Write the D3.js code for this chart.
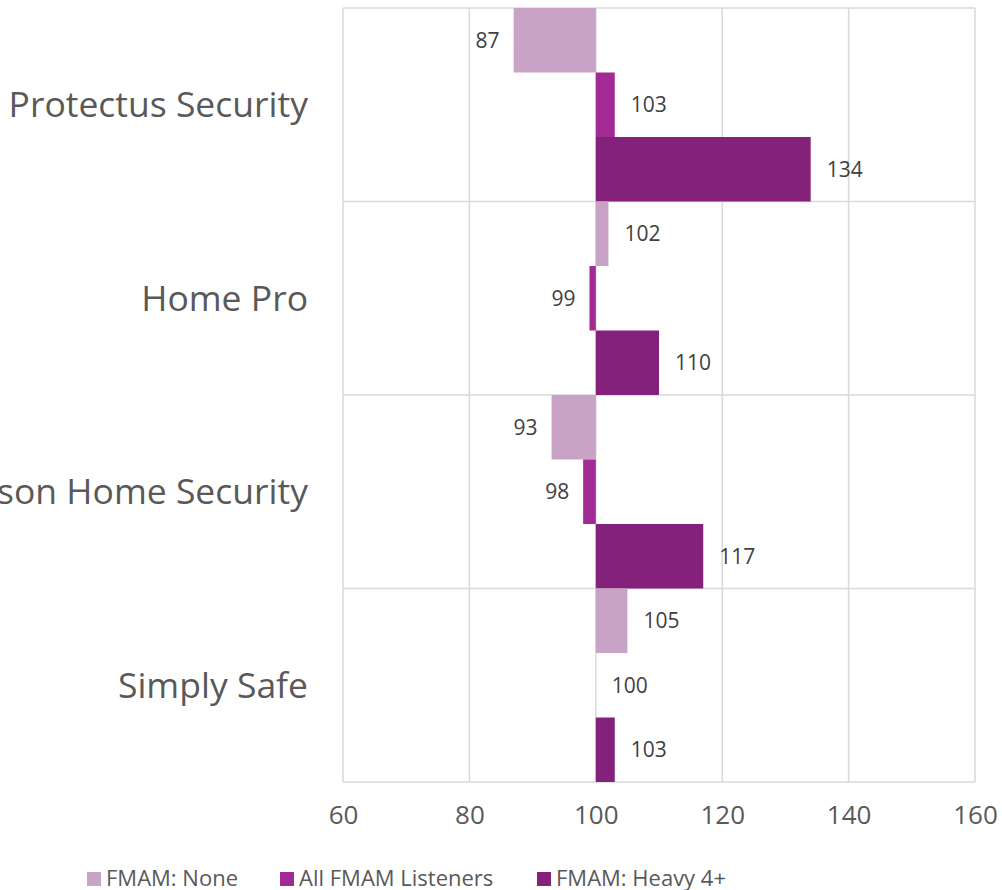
<!DOCTYPE html>
<html>
<head>
<meta charset="utf-8">
<script src="https://cdn.jsdelivr.net/npm/d3@7"></script>
<style>
  body { margin: 0; background: #fff; }
  svg { display: block; }
</style>
</head>
<body>
<svg id="chart" width="1002" height="890"></svg>
<script>
// categories and series (index, 100 = average)
const categories = ["Protectus Security", "Home Pro", "Simpson Home Security", "Simply Safe"];
const seriesNames = ["FMAM: None", "All FMAM Listeners", "FMAM: Heavy 4+"];
const seriesColors = ["#C9A3C5", "#A12A94", "#84217A"];
const fmamNone = [87, 102, 93, 105];
const fmamAll = [103, 99, 98, 100];
const fmamHeavy = [134, 110, 117, 103];
const xTicks = [60, 80, 100, 120, 140, 160];

const seriesValues = [fmamNone, fmamAll, fmamHeavy];
const font = "'Open Sans', 'Liberation Sans', sans-serif";

const svg = d3.select("#chart");
const plot = { left: 343, right: 975, top: 8, bottom: 782 };

const x = d3.scaleLinear().domain([60, 160]).range([plot.left, plot.right]);
const y = d3.scaleBand().domain(categories).range([plot.top, plot.bottom]);
const ySub = d3.scaleBand().domain(seriesNames).range([0, y.bandwidth()]);

// vertical gridlines
svg.append("g")
    .selectAll("line")
    .data(xTicks)
    .join("line")
    .attr("x1", d => x(d)).attr("x2", d => x(d))
    .attr("y1", plot.top).attr("y2", plot.bottom)
    .attr("stroke", "#d9d9d9")
    .attr("stroke-width", 1.5);

// horizontal gridlines between categories
const hLines = categories.map(c => y(c)).concat([plot.bottom]);
svg.append("g")
    .selectAll("line")
    .data(hLines)
    .join("line")
    .attr("x1", plot.left).attr("x2", plot.right)
    .attr("y1", d => d).attr("y2", d => d)
    .attr("stroke", "#d9d9d9")
    .attr("stroke-width", 1.5);

// bars
const rows = [];
categories.forEach((c, i) => {
    seriesNames.forEach((s, j) => {
        rows.push({ cat: c, series: s, value: seriesValues[j][i], color: seriesColors[j] });
    });
});

svg.append("g")
    .selectAll("rect")
    .data(rows)
    .join("rect")
    .attr("x", d => x(Math.min(100, d.value)))
    .attr("width", d => Math.abs(x(d.value) - x(100)))
    .attr("y", d => y(d.cat) + ySub(d.series))
    .attr("height", ySub.bandwidth())
    .attr("fill", d => d.color);

// value labels
svg.append("g")
    .selectAll("text")
    .data(rows)
    .join("text")
    .attr("x", d => d.value < 100 ? x(d.value) - 14 : x(d.value) + 16)
    .attr("y", d => y(d.cat) + ySub(d.series) + ySub.bandwidth() / 2)
    .attr("dy", "0.35em")
    .attr("text-anchor", d => d.value < 100 ? "end" : "start")
    .style("font-family", font)
    .style("font-size", "21px")
    .attr("fill", "#404040")
    .text(d => d.value);

// category labels (the long one runs past the left edge, as in the original)
svg.append("g")
    .selectAll("text")
    .data(categories)
    .join("text")
    .attr("x", 308)
    .attr("y", d => y(d) + y.bandwidth() / 2)
    .attr("dy", "0.35em")
    .attr("text-anchor", "end")
    .style("font-family", font)
    .style("font-size", "35.5px")
    .attr("fill", "#595959")
    .text(d => d);

// x axis tick labels
const xAxis = svg.append("g")
    .attr("transform", `translate(0, ${plot.bottom})`)
    .call(d3.axisBottom(x).tickValues(xTicks).tickSize(0).tickPadding(24));
xAxis.select(".domain").remove();
xAxis.selectAll("text")
    .style("font-family", font)
    .style("font-size", "26px")
    .attr("fill", "#595959");

// legend
const legendX = [87, 280, 537];
const legend = svg.append("g")
    .selectAll("g")
    .data(seriesNames)
    .join("g")
    .attr("transform", (d, i) => `translate(${legendX[i]}, 872)`);
legend.append("rect")
    .attr("width", 14).attr("height", 14)
    .attr("fill", (d, i) => seriesColors[i]);
legend.append("text")
    .attr("x", 19)
    .attr("y", 6)
    .attr("dy", "0.35em")
    .style("font-family", font)
    .style("font-size", "22px")
    .attr("fill", "#595959")
    .text(d => d);
</script>
</body>
</html>
